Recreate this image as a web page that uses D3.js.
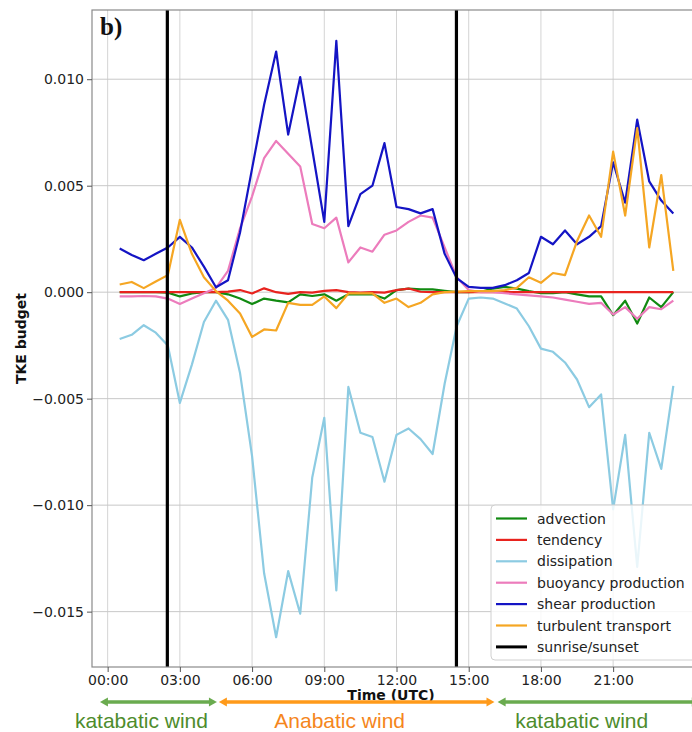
<!DOCTYPE html>
<html><head><meta charset="utf-8">
<script src="https://cdn.jsdelivr.net/npm/d3@7"></script>
<style>body{margin:0;background:#fff;} svg{display:block;}</style>
</head><body><svg id="c" width="692" height="732"></svg>
<script>
// ---- data (time in hours UTC) ----
const times = [0.5,1.0,1.5,2.0,2.5,3.0,3.5,4.0,4.5,5.0,5.5,6.0,6.5,7.0,7.5,8.0,8.5,9.0,9.5,10.0,10.5,11.0,11.5,12.0,12.5,13.0,13.5,14.0,14.5,15.0,15.5,16.0,16.5,17.0,17.5,18.0,18.5,19.0,19.5,20.0,20.5,21.0,21.5,22.0,22.5,23.0,23.5];
const advection = [0,0,0,0,-0.00002,-0.0002,-0.00006,0,0,-0.0001,-0.0003,-0.00056,-0.0003,-0.0004,-0.00048,-0.0001,-0.00018,-0.0001,-0.0004,-0.0001,-0.0001,-0.0001,-0.0003,0.0001,0.00017,0.00013,0.00013,0.00006,0,0,0.00002,0.00017,0.00025,0.00017,0.00005,-0.00005,-0.00005,0,-0.0001,-0.0002,-0.0002,-0.00108,-0.0004,-0.00147,-0.00025,-0.0007,0];
const tendency = [0,0,0,0,0,0,0,0,0,0.00003,0.0001,-0.00006,0.00018,0,-0.00008,0,-0.00002,0.00006,0.0001,0,-0.00002,0,-0.00002,0.0001,0.00017,0.00002,0,0,0,0,0,0,0,0,0,0,0,0,0,0,0,0,0,0,0,0,0];
const dissipation = [-0.0022,-0.0020,-0.00155,-0.0019,-0.0025,-0.0052,-0.0034,-0.0014,-0.0004,-0.0013,-0.0038,-0.0077,-0.0132,-0.0162,-0.0131,-0.0151,-0.0087,-0.0059,-0.0140,-0.00445,-0.0066,-0.0068,-0.0089,-0.0067,-0.0064,-0.0069,-0.0076,-0.0043,-0.0016,-0.0003,-0.00025,-0.0003,-0.00053,-0.00077,-0.0016,-0.00265,-0.0028,-0.0033,-0.0041,-0.0054,-0.0048,-0.0102,-0.0067,-0.0129,-0.0066,-0.0083,-0.0044];
const buoyancy = [-0.0002,-0.0002,-0.00018,-0.0002,-0.0003,-0.00055,-0.0003,-0.00005,0.0002,0.0010,0.0030,0.0045,0.0063,0.0071,0.0065,0.0059,0.0032,0.0030,0.0035,0.0014,0.0021,0.0019,0.0027,0.0029,0.0033,0.0036,0.0035,0.0021,0.0007,0.0001,0,0,-0.00005,-0.0001,-0.00015,-0.0002,-0.00025,-0.00035,-0.00045,-0.00055,-0.0005,-0.00105,-0.0007,-0.00125,-0.0007,-0.0008,-0.0004];
const shear = [0.00205,0.00175,0.0015,0.0018,0.0021,0.0026,0.0021,0.0012,0.00023,0.00056,0.0028,0.0058,0.0088,0.0113,0.0074,0.0101,0.0067,0.0033,0.0118,0.0031,0.0046,0.0050,0.0070,0.0040,0.0039,0.0037,0.0039,0.0018,0.00066,0.00025,0.0002,0.0002,0.00033,0.00056,0.0009,0.0026,0.00225,0.0029,0.00225,0.0026,0.0031,0.0061,0.0042,0.0081,0.0052,0.0043,0.0037];
const transport = [0.00036,0.00048,0.00019,0.0005,0.0008,0.0034,0.0018,0.0007,0.00005,-0.0004,-0.001,-0.0021,-0.00175,-0.0018,-0.0005,-0.0006,-0.0006,-0.0002,-0.00075,-0.00006,-0.00006,-0.00006,-0.0005,-0.0003,-0.0007,-0.0005,-0.0001,0,0.00003,0.00005,0.00005,0.00005,0.0001,0.0002,0.0007,0.00044,0.0009,0.0008,0.0024,0.0036,0.0026,0.0066,0.0036,0.0077,0.0021,0.0055,0.001];
const sunTimes = [2.48, 14.49];
const seriesNames = ["advection","tendency","dissipation","buoyancy production","shear production","turbulent transport"];
const seriesColors = ["#118a11","#e8231e","#8ccbe2","#ec7cbc","#1414c4","#f5a623"];
const seriesValues = [advection, tendency, dissipation, buoyancy, shear, transport];
const xTicks = [0,3,6,9,12,15,18,21];
const xTickLabels = ["00:00","03:00","06:00","09:00","12:00","15:00","18:00","21:00"];
const yTicks = [-0.015,-0.010,-0.005,0.000,0.005,0.010];
const phaseLabels = ["katabatic wind","Anabatic wind","katabatic wind"];
const phaseStart = [-0.32, 4.62, 16.2];
const phaseEnd = [4.54, 16.07, 24.6];
const phaseColors = ["#6aab4f","#ff9a1a","#6aab4f"];
const phaseTextColors = ["#4e8c2c","#f5861c","#4e8c2c"];

// ---- layout ----
const svg = d3.select("#c");
const L = 92, T = 10, R = 701, B = 667;
const x = d3.scaleLinear().domain([-0.65, 24.65]).range([L, R]);
const y = d3.scaleLinear().domain([-0.0176, 0.01325]).range([B, T]);
const font = "'DejaVu Sans', sans-serif";

svg.append("defs").append("clipPath").attr("id","clip")
  .append("rect").attr("x",L).attr("y",T).attr("width",R-L).attr("height",B-T);

// grid
const g = svg.append("g");
g.selectAll(".vg").data(xTicks).enter().append("line")
  .attr("x1",d=>x(d)).attr("x2",d=>x(d)).attr("y1",T).attr("y2",B)
  .attr("stroke","#d4d4d4").attr("stroke-width",1);
g.selectAll(".hg").data(yTicks).enter().append("line")
  .attr("x1",L).attr("x2",R).attr("y1",d=>y(d)).attr("y2",d=>y(d))
  .attr("stroke","#c8c8c8").attr("stroke-width",1);

// series
const line = d3.line().x((d,i)=>x(times[i])).y(d=>y(d));
const plot = svg.append("g").attr("clip-path","url(#clip)");
seriesValues.forEach((vals,k)=>{
  plot.append("path").datum(vals).attr("d",line)
    .attr("fill","none").attr("stroke",seriesColors[k]).attr("stroke-width",2.2)
    .attr("stroke-linejoin","round");
});
// sunrise/sunset
plot.selectAll(".sun").data(sunTimes).enter().append("line")
  .attr("x1",d=>x(d)).attr("x2",d=>x(d)).attr("y1",T).attr("y2",B)
  .attr("stroke","#000").attr("stroke-width",3.2);

// frame
svg.append("rect").attr("x",L).attr("y",T).attr("width",R-L).attr("height",B-T)
  .attr("fill","none").attr("stroke","#8a8a8a").attr("stroke-width",1.2);

// axes
const xa = svg.append("g").attr("transform",`translate(0,${B})`)
  .call(d3.axisBottom(x).tickValues(xTicks).tickFormat((d,i)=>xTickLabels[i]).tickSize(5).tickPadding(3));
const ya = svg.append("g").attr("transform",`translate(${L},0)`)
  .call(d3.axisLeft(y).tickValues(yTicks).tickFormat(d=>d3.format(".3f")(d).replace("-","\u2212")).tickSize(5).tickPadding(3));
[xa,ya].forEach(a=>{
  a.select(".domain").remove();
  a.selectAll(".tick line").attr("stroke","#555");
  a.selectAll(".tick text").attr("font-family",font).attr("font-size",14).attr("fill","#222");
});

// axis labels
svg.append("text").attr("transform","translate(21,338.5) rotate(-90)")
  .attr("text-anchor","middle").attr("dominant-baseline","central")
  .attr("font-family",font).attr("font-weight","bold").attr("font-size",14).attr("fill","#111")
  .text("TKE budget");
svg.append("text").attr("x",391).attr("y",700).attr("text-anchor","middle")
  .attr("font-family",font).attr("font-weight","bold").attr("font-size",14).attr("fill","#111")
  .text("Time (UTC)");

// panel label
svg.append("text").attr("x",100).attr("y",35)
  .attr("font-family","'Liberation Serif', 'Times New Roman', serif").attr("font-weight","bold")
  .attr("font-size",25).attr("fill","#111").text("b)");

// legend
const lg = svg.append("g");
lg.append("rect").attr("x",491).attr("y",505).attr("width",230).attr("height",155).attr("rx",4)
  .attr("fill","#fff").attr("fill-opacity",0.82).attr("stroke","#d0d0d0");
const legNames = seriesNames.concat(["sunrise/sunset"]);
const legColors = seriesColors.concat(["#000"]);
legNames.forEach((n,i)=>{
  const yy = 518.5 + i*21.4;
  lg.append("line").attr("x1",496).attr("x2",527).attr("y1",yy).attr("y2",yy)
    .attr("stroke",legColors[i]).attr("stroke-width",i===6?3:2.2);
  lg.append("text").attr("x",537).attr("y",yy).attr("dominant-baseline","central")
    .attr("font-family",font).attr("font-size",14).attr("fill","#222").text(n);
});

// phase arrows
const ay = 702;
phaseLabels.forEach((lab,i)=>{
  const x1 = x(phaseStart[i]) + 3, x2 = Math.min(x(phaseEnd[i]), 706) - 3;
  const c = phaseColors[i];
  svg.append("line").attr("x1",x1+2).attr("x2",x2-2).attr("y1",ay).attr("y2",ay)
    .attr("stroke",c).attr("stroke-width",3.5);
  svg.append("path").attr("d",`M${x1-3},${ay} L${x1+5},${ay-4.5} L${x1+5},${ay+4.5} Z`).attr("fill",c);
  svg.append("path").attr("d",`M${x2+3},${ay} L${x2-5},${ay-4.5} L${x2-5},${ay+4.5} Z`).attr("fill",c);
  const cx = (x1 + x2)/2 - 17;
  svg.append("text").attr("x",cx).attr("y",728).attr("text-anchor","middle")
    .attr("font-family","'Liberation Sans', Arial, sans-serif").attr("font-size",21)
    .attr("fill",phaseTextColors[i]).text(lab);
});
</script>
</body></html>
